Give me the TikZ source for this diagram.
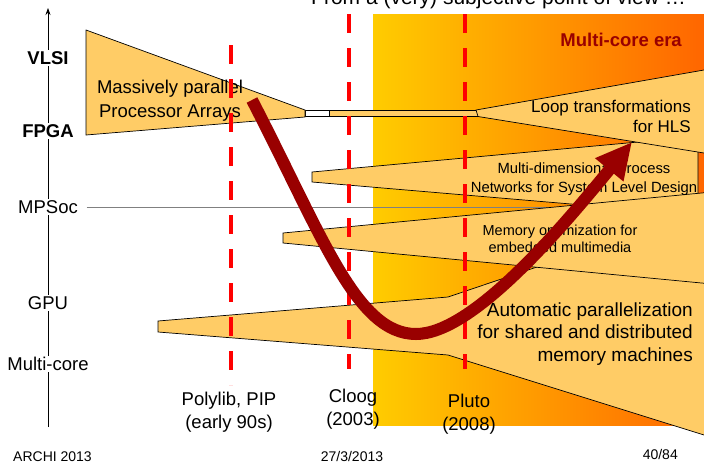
\documentclass[tikz,border=0pt]{standalone}
\usepackage{fontspec}
\setmainfont{Liberation Sans}
\usetikzlibrary{arrows.meta}
\definecolor{fanorange}{HTML}{FFCC66}
\definecolor{eragold}{HTML}{FFCC00}
\definecolor{eraorange}{HTML}{FF6600}
\definecolor{curvered}{HTML}{990000}
\definecolor{dashred}{HTML}{FF0000}
\begin{document}
\begin{tikzpicture}[x=1pt,y=-1pt,
    fan/.style={draw=black,line width=0.7pt,fill=fanorange},
    milestone/.style={draw=dashred,line width=4pt,dash pattern=on 19pt off 15pt},
    axislabel/.style={fill=white,inner sep=1.5pt,font=\fontsize{18.5}{22}\selectfont},
    boldlabel/.style={axislabel,font=\fontsize{18.5}{22}\selectfont\bfseries},
    toollabel/.style={align=center,inner sep=0pt,font=\fontsize{18.5}{23}\selectfont},
    footer/.style={inner sep=0pt,font=\fontsize{14}{16}\selectfont}]
  \useasboundingbox (0,0) rectangle (704,464);
  \fill[left color=eragold,right color=eraorange] (373,14) rectangle (704,425);
  \node[anchor=east,inner sep=0pt,text=curvered,font=\fontsize{18.5}{22}\selectfont\bfseries] (era) at (682,40) {Multi-core era};
  \node[anchor=base west,inner sep=0pt,font=\fontsize{21}{25}\selectfont] (title) at (311,4) {From a (very) subjective point of view …};

  \coordinate (axisbot) at (48,427);
  \coordinate (axistop) at (48,8);
  \draw[line width=0.7pt,-{Stealth[length=7pt,width=5pt]}] (axisbot) -- (axistop);
  \draw
    (48,58) node[boldlabel] (vlsi) {VLSI}
    (48,131) node[boldlabel] (fpga) {FPGA}
    (48,207) node[axislabel] (mpsoc) {MPSoc}
    (48,303) node[axislabel] (gpu) {GPU}
    (48,364) node[axislabel] (multicore) {Multi-core};
  \coordinate (mpsocend) at (704,207);
  \draw[gray,line width=0.8pt] ([xshift=7pt]mpsoc.east) -- (mpsocend);

  \draw[fan] (158,321) -- (448,297) -- (712,208) -- (712,437.5) -- (448,355) -- (158,332) -- cycle;
  \draw[fan] (312,172) -- (698,136.5) -- (698,214.8) -- (312,182) -- cycle;
  \draw[fan] (283,233) -- (712,192) -- (712,284) -- (283,243) -- cycle;
  \draw[fan] (305,110) rectangle (478,116.5);
  \draw[fan,fill=white] (305,110) rectangle (329,116.5);
  \draw[fan] (476,110) -- (712,68.6) -- (712,154.3) -- (478,116.5) -- cycle;
  \draw[fan] (86,30) -- (305,110) -- (305,117) -- (86,135) -- cycle;

  \node[align=center,inner sep=0pt,font=\fontsize{18.5}{24}\selectfont] (ppa) at (170,100.5) {Massively parallel\\Processor Arrays};
  \node[align=right,anchor=east,inner sep=0pt,font=\fontsize{17}{20}\selectfont] (loops) at (691,116) {Loop transformations\\for HLS};
  \node[align=center,inner sep=0pt,font=\fontsize{14.8}{19}\selectfont] (kpn) at (584,179) {Multi-dimensional Process\\Networks for System Level Design};
  \node[align=center,inner sep=0pt,font=\fontsize{14.5}{17}\selectfont] (memopt) at (560,238.5) {Memory optimization for\\embedded multimedia};
  \node[align=right,anchor=east,inner sep=0pt,font=\fontsize{19}{22.5}\selectfont] (autopar) at (693,334) {Automatic parallelization\\for shared and distributed\\memory machines};

  \coordinate (polytop) at (231,45);
  \coordinate (polybot) at (231,385);
  \coordinate (cloogtop) at (349,14);
  \coordinate (cloogbot) at (349,369);
  \coordinate (plutotop) at (465,14);
  \coordinate (plutobot) at (465,369);
  \draw[milestone] (polytop) -- (polybot);
  \draw[milestone] (cloogtop) -- (cloogbot);
  \draw[milestone] (plutotop) -- (plutobot);
  \draw
    (229,412) node[toollabel] (polylib) {Polylib, PIP\\(early 90s)}
    (353,409.5) node[toollabel] (cloog) {Cloog\\(2003)}
    (469,414) node[toollabel] (pluto) {Pluto\\(2008)};

  \draw
    (13,461) node[footer,anchor=base west] (event) {ARCHI 2013}
    (352,461) node[footer,anchor=base] (date) {27/3/2013}
    (678,459) node[footer,anchor=base east] (page) {40/84};

  \coordinate (curvestart) at (252,100);
  \coordinate (curvelow) at (416,334);
  \coordinate (curvetip) at (632,142);
  \draw[curvered,line width=12pt,-{Triangle[length=36pt,width=34pt]}]
    (curvestart) .. controls (322,235) and (356,334) .. (curvelow)
    .. controls (472,334) and (560,230) .. (curvetip);
\end{tikzpicture}
\end{document}
